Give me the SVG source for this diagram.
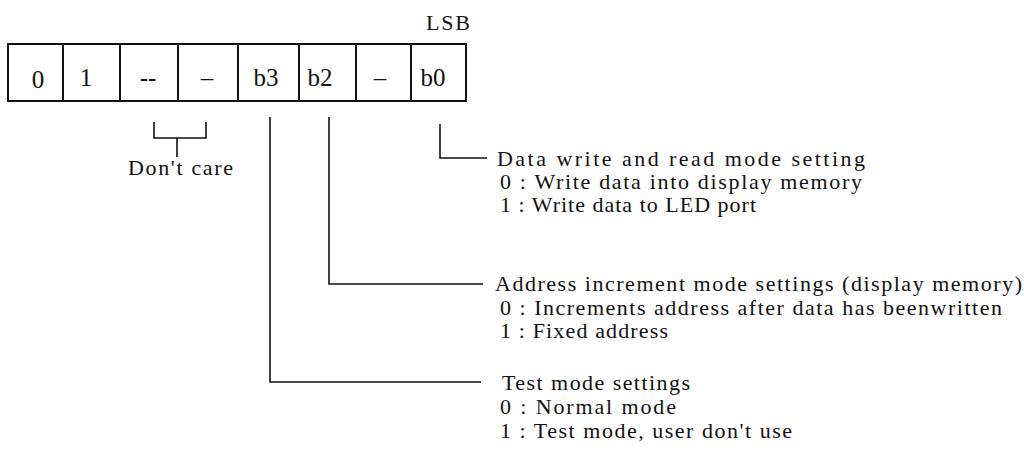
<svg xmlns="http://www.w3.org/2000/svg" width="1024" height="472" viewBox="0 0 1024 472">
<style>
text{font-family:"Liberation Serif","Times New Roman",serif;font-size:22px;fill:#111}
.c{text-anchor:middle}
.cell{font-size:25px}
.ln{stroke:#111;stroke-width:1.6;fill:none}
.bx{stroke:#111;stroke-width:2;fill:#fff}
</style>
<rect width="1024" height="472" fill="#fff"/>
<g id="register">
<rect class="bx" x="8" y="44" width="458" height="57"/>
<path class="ln" d="M63 44V101M120 44V101M178 44V101M238 44V101M299 44V101M356 44V101M411 44V101" style="stroke-width:2"/>
<text class="c cell" x="38" y="88">0</text>
<text class="c cell" x="86" y="86">1</text>
<text class="c cell" x="148" y="86">--</text>
<text class="c cell" x="207" y="86">–</text>
<text class="c cell" x="266" y="86">b3</text>
<text class="c cell" x="320" y="86">b2</text>
<text class="c cell" x="380" y="86">–</text>
<text class="c cell" x="433" y="86">b0</text>
<text x="426" y="30" textLength="44">LSB</text>
</g>
<g id="connectors">
<path class="ln" d="M154 122V138H206V122M177 138V157"/>
<path class="ln" d="M440 124V158H487"/>
<path class="ln" d="M329 117V284H483"/>
<path class="ln" d="M270 117V382H481"/>
</g>
<g id="dontcare">
<text x="128" y="175" textLength="105">Don't care</text>
</g>
<g id="b0-desc">
<text x="497" y="166" textLength="368">Data write and read mode setting</text>
<text x="500" y="189" textLength="362">0 : Write data into display memory</text>
<text x="500" y="212" textLength="256">1 : Write data to LED port</text>
</g>
<g id="b2-desc">
<text x="495" y="291" textLength="527">Address increment mode settings (display memory)</text>
<text x="500" y="315" textLength="502">0 : Increments address after data has beenwritten</text>
<text x="500" y="338" textLength="168">1 : Fixed address</text>
</g>
<g id="b3-desc">
<text x="502" y="390" textLength="188">Test mode settings</text>
<text x="500" y="414" textLength="176">0 : Normal mode</text>
<text x="500" y="438" textLength="292">1 : Test mode, user don't use</text>
</g>
</svg>
